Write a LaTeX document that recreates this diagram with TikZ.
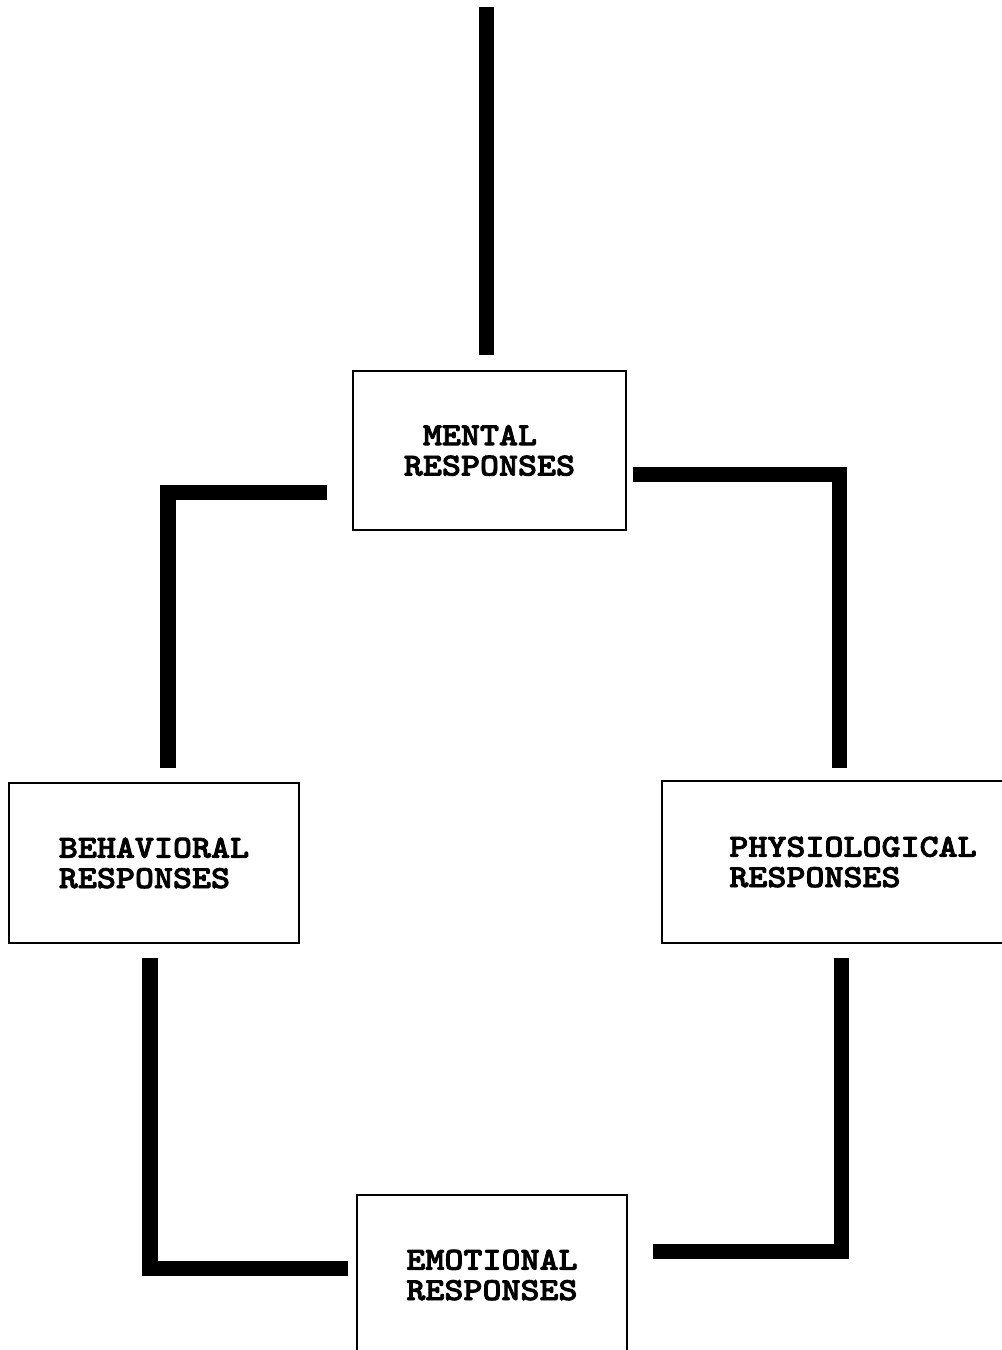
\documentclass[tikz,border=0pt]{standalone}
\usepackage{fontspec}
\newfontfamily\boxfont{lmmonolt10-bold.otf}[FakeStretch=1.13, FakeBold=2.5]

\begin{document}
\begin{tikzpicture}[x=0.025cm, y=-0.025cm,
    resp/.style={draw, line width=0.0625cm, outer sep=0pt, align=left,
      font=\boxfont\fontsize{22.8}{21.6}\selectfont},
    link/.style={line width=0.375cm, line join=miter}]
    \useasboundingbox (0, 0) rectangle (1001, 1350);

    % 箱を置く
    \node[resp, minimum width=6.825cm, minimum height=3.975cm] (mental) at (489.5, 450.5) {\phantom{R}MENTAL\\RESPONSES};
    \node[resp, minimum width=7.25cm, minimum height=4cm] (behav) at (154, 863) {BEHAVIORAL\\RESPONSES};
    \node[resp, minimum width=9.55cm, minimum height=4.05cm] (phys) at (853, 862) {PHYSIOLOGICAL\\RESPONSES};
    \node[resp, minimum width=6.75cm, minimum height=4cm] (emo) at (492, 1275) {EMOTIONAL\\RESPONSES};

    % 太線を引く
    \coordinate (top) at (486.5, 7);
    \draw[link] (top) -- ([shift={(-3,-16)}]mental.north);
    \draw[link] ([shift={(-26,41.5)}]mental.west) -| ([shift={(14,-15)}]behav.north);
    \draw[link] ([shift={(7,23.5)}]mental.east) -| ([shift={(-14,-13)}]phys.north);
    \draw[link] ([shift={(-4,15)}]behav.south) |- ([shift={(-9,-7)}]emo.west);
    \draw[link] ([shift={(-12,15)}]phys.south) |- ([shift={(26,-24)}]emo.east);
  \end{tikzpicture}
\end{document}
